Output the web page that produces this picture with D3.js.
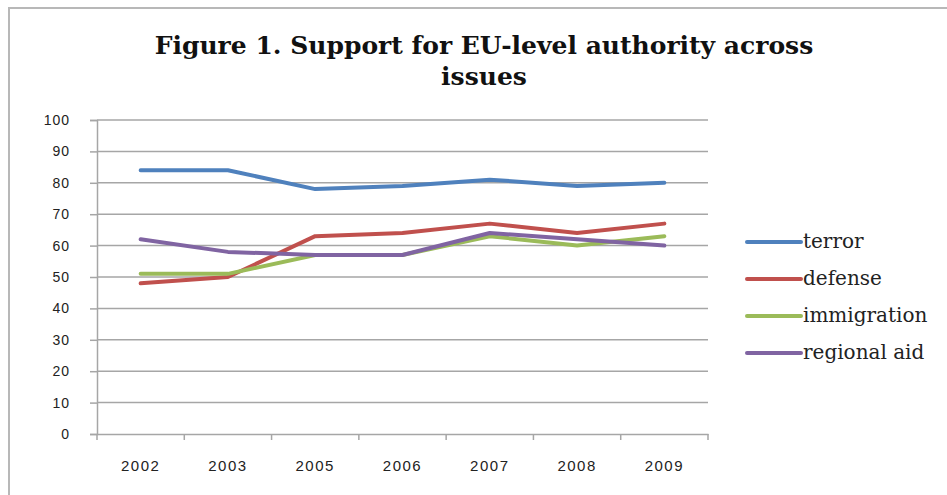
<!DOCTYPE html>
<html>
<head>
<meta charset="utf-8">
<script src="https://cdn.jsdelivr.net/npm/d3@7"></script>
<style>
  body { margin: 0; background: #fff; }
  .tick text { font-family: "Liberation Sans", Arial, sans-serif; }
</style>
</head>
<body>
<div id="chart"></div>
<script>
const years = ['2002', '2003', '2005', '2006', '2007', '2008', '2009'];
const terror = [84, 84, 78, 79, 81, 79, 80];
const defense = [48, 50, 63, 64, 67, 64, 67];
const immigration = [51, 51, 57, 57, 63, 60, 63];
const regionalAid = [62, 58, 57, 57, 64, 62, 60];
const yTicks = [0, 10, 20, 30, 40, 50, 60, 70, 80, 90, 100];

const series = [
  { name: 'terror', values: terror, color: '#4f81bd' },
  { name: 'defense', values: defense, color: '#c0504d' },
  { name: 'immigration', values: immigration, color: '#9bbb59' },
  { name: 'regional aid', values: regionalAid, color: '#8064a2' },
];

const W = 947, H = 495;
const margin = { top: 120, right: 239, bottom: 61, left: 97 };
const width = W - margin.left - margin.right;
const height = H - margin.top - margin.bottom;

const svg = d3.select('#chart').append('svg')
  .attr('width', W)
  .attr('height', H);

// outer chart frame (only top and left edges fall inside the picture)
svg.append('path')
  .attr('d', `M9,${H} L9,8 L${W},8`)
  .attr('fill', 'none')
  .attr('stroke', '#b8b8b8')
  .attr('stroke-width', 2);

const titleLines = ['Figure 1. Support for EU-level authority across', 'issues'];
svg.selectAll('text.title')
  .data(titleLines)
  .enter()
  .append('text')
  .attr('class', 'title')
  .attr('x', 484)
  .attr('y', (d, i) => 54 + i * 31)
  .attr('text-anchor', 'middle')
  .style('font-family', '"DejaVu Serif", serif')
  .style('font-weight', 'bold')
  .style('font-size', '25px')
  .attr('fill', '#111')
  .text(d => d);

const g = svg.append('g')
  .attr('transform', `translate(${margin.left},${margin.top})`);

const x = d3.scaleBand().domain(years).range([0, width]);
const y = d3.scaleLinear().domain([0, 100]).range([height, 0]);

// gridlines
g.append('g')
  .selectAll('line')
  .data(yTicks.filter(d => d > 0))
  .enter()
  .append('line')
  .attr('x1', 0)
  .attr('x2', width)
  .attr('y1', d => y(d))
  .attr('y2', d => y(d))
  .attr('stroke', '#a6a6a6')
  .attr('stroke-width', 1.5);

// y axis
const yAxis = g.append('g')
  .call(d3.axisLeft(y).tickValues(yTicks).tickSize(7).tickPadding(20));
yAxis.select('.domain').attr('stroke', '#a6a6a6').attr('stroke-width', 1.5);
yAxis.selectAll('.tick line').attr('stroke', '#a6a6a6').attr('stroke-width', 1.5);
yAxis.selectAll('.tick text')
  .attr('fill', '#222')
  .style('font-size', '14px')
  .style('letter-spacing', '1px');

// x axis, ticks on category boundaries
const xAxis = g.append('g')
  .attr('transform', `translate(0,${height})`)
  .call(d3.axisBottom(x).tickSize(0).tickPadding(26));
xAxis.select('.domain').attr('stroke', '#a6a6a6').attr('stroke-width', 1.5);
xAxis.selectAll('.tick text')
  .attr('fill', '#222')
  .style('font-size', '15px')
  .style('letter-spacing', '1.5px');
xAxis.selectAll('line.bound')
  .data(years.map(d => x(d)).concat([width]))
  .enter()
  .append('line')
  .attr('class', 'bound')
  .attr('x1', d => d)
  .attr('x2', d => d)
  .attr('y1', 0)
  .attr('y2', 6)
  .attr('stroke', '#a6a6a6')
  .attr('stroke-width', 1.5);

const line = d3.line()
  .x((d, i) => x(years[i]) + x.bandwidth() / 2)
  .y(d => y(d));

g.selectAll('.series')
  .data(series)
  .enter()
  .append('path')
  .attr('class', 'series')
  .attr('d', d => line(d.values))
  .attr('fill', 'none')
  .attr('stroke', d => d.color)
  .attr('stroke-width', 4)
  .attr('stroke-linejoin', 'round')
  .attr('stroke-linecap', 'round');

// legend
const legend = svg.append('g')
  .attr('transform', 'translate(747,242)');

const item = legend.selectAll('g')
  .data(series)
  .enter()
  .append('g')
  .attr('transform', (d, i) => `translate(0,${i * 37})`);

item.append('line')
  .attr('x1', 0)
  .attr('x2', 54)
  .attr('stroke', d => d.color)
  .attr('stroke-width', 4)
  .attr('stroke-linecap', 'round');

item.append('text')
  .attr('x', 56)
  .attr('dy', '0.32em')
  .style('font-family', '"DejaVu Serif", serif')
  .style('font-size', '20px')
  .attr('fill', '#222')
  .text(d => d.name);
</script>
</body>
</html>
